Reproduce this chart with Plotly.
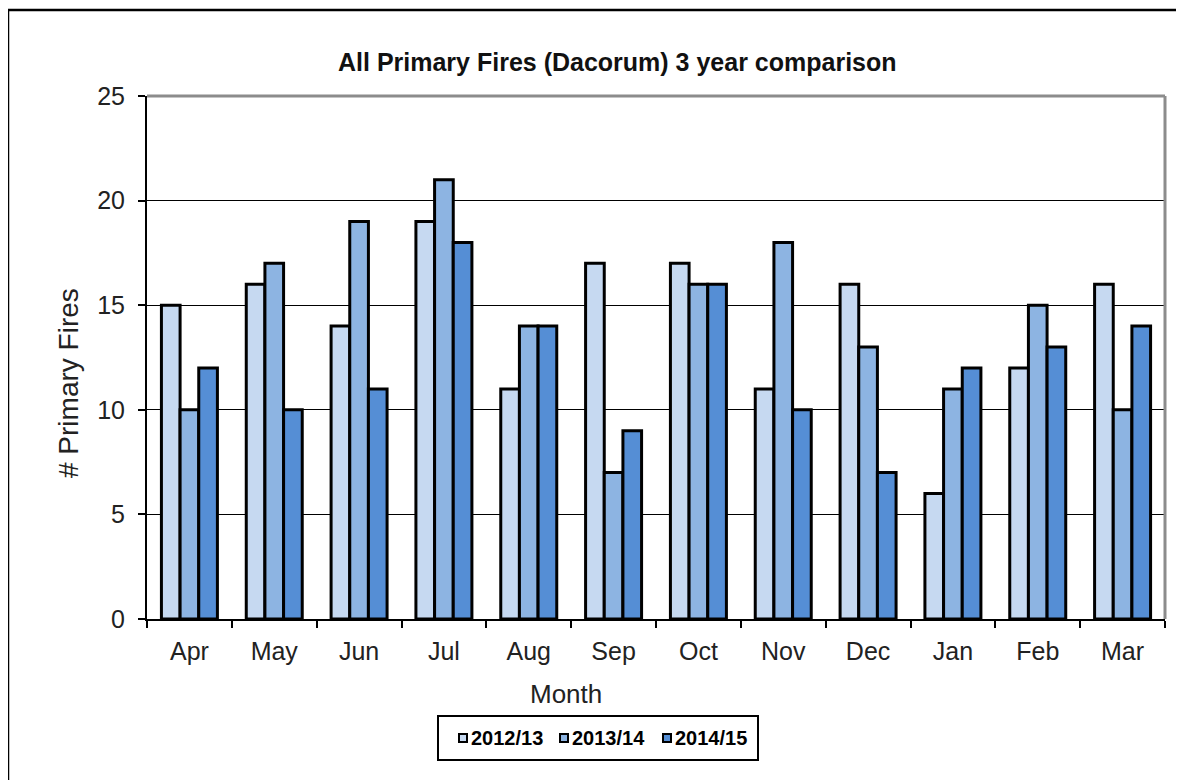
import plotly.graph_objects as go

months = ["Apr", "May", "Jun", "Jul", "Aug", "Sep", "Oct", "Nov", "Dec", "Jan", "Feb", "Mar"]
fy_2012_13 = [15, 16, 14, 19, 11, 17, 17, 11, 16, 6, 12, 16]
fy_2013_14 = [10, 17, 19, 21, 14, 7, 16, 18, 13, 11, 15, 10]
fy_2014_15 = [12, 10, 11, 18, 14, 9, 16, 10, 7, 12, 13, 14]
series_names = ["2012/13", "2013/14", "2014/15"]
series_colors = ["#C6D9F1", "#8DB4E2", "#558ED5"]
y_ticks = [0, 5, 10, 15, 20, 25]

OFF = 8  # page body margin
W, H = 1184 - OFF, 780 - OFF
L = 147 - OFF
T = 96 - OFF
R = W - (1165 - OFF)
B = H - (619 - OFF)
pw, ph = W - L - R, H - T - B


def px_x(x):  # reference-screen x -> paper
    return (x - OFF - L) / pw


def px_y(y):  # reference-screen y -> paper
    return (H - B - (y - OFF)) / ph


FONT = "Liberation Sans, Arial, sans-serif"

fig = go.Figure()
for name, vals, col in zip(series_names, [fy_2012_13, fy_2013_14, fy_2014_15], series_colors):
    fig.add_trace(go.Bar(
        x=months, y=vals, name=name,
        marker=dict(color=col, line=dict(color="black", width=3)),
    ))

fig.update_layout(
    width=W, height=H,
    margin=dict(l=L, r=R, t=T, b=B),
    paper_bgcolor="white", plot_bgcolor="white",
    barmode="group", bargap=0.34, bargroupgap=0,
    font=dict(family=FONT, size=25, color="#222222"),
    showlegend=False,
    xaxis=dict(
        type="category", tickson="boundaries", ticks="outside", ticklen=7,
        tickcolor="black", tickwidth=1.5, showline=True, linecolor="black", linewidth=2,
        showgrid=False, tickfont=dict(size=25, color="#222222"), range=[-0.5, 11.5],
        ticklabelstandoff=9,
    ),
    yaxis=dict(
        range=[0, 25], tickvals=y_ticks, ticks="outside", ticklen=7, tickcolor="black",
        tickwidth=1.5, showline=True, linecolor="black", linewidth=2,
        showgrid=True, gridcolor="black", gridwidth=1.3, zeroline=False,
        tickfont=dict(size=25, color="#222222"), ticklabelstandoff=8,
    ),
)

shapes = [
    # grey plot-area border top and right
    dict(type="line", xref="paper", yref="paper", x0=0, x1=1, y0=1, y1=1,
         line=dict(color="#8C8C8C", width=3)),
    dict(type="line", xref="paper", yref="paper", x0=1, x1=1, y0=0, y1=1,
         line=dict(color="#8C8C8C", width=3)),
    # outer chart frame (left and top)
    dict(type="line", xref="paper", yref="paper", x0=px_x(8), x1=px_x(8), y0=px_y(800), y1=px_y(10),
         line=dict(color="black", width=2.5)),
    dict(type="line", xref="paper", yref="paper", x0=px_x(8), x1=px_x(1200), y0=px_y(10), y1=px_y(10),
         line=dict(color="black", width=2.5)),
    # legend box
    dict(type="rect", xref="paper", yref="paper", x0=px_x(438), x1=px_x(758), y0=px_y(760), y1=px_y(716),
         line=dict(color="black", width=2), fillcolor="white"),
]

# custom legend entries
legend_marker_x = [459, 560, 663]
legend_y = 738
for name, col, mx in zip(series_names, series_colors, legend_marker_x):
    shapes.append(dict(type="rect", xref="paper", yref="paper",
                       x0=px_x(mx), x1=px_x(mx + 8), y0=px_y(legend_y + 4), y1=px_y(legend_y - 4),
                       line=dict(color="black", width=2), fillcolor=col))
    fig.add_annotation(text="<b>" + name + "</b>", xref="paper", yref="paper",
                       x=px_x(mx + 10), y=px_y(legend_y), xanchor="left", yanchor="middle",
                       showarrow=False, font=dict(size=20, color="black"))

fig.update_layout(shapes=shapes)

fig.add_annotation(text="<b>All Primary Fires (Dacorum) 3 year comparison</b>", xref="paper", yref="paper",
                   x=px_x(617), y=px_y(62), xanchor="center", yanchor="middle",
                   showarrow=False, font=dict(size=25, color="#111111"))
fig.add_annotation(text="Month", xref="paper", yref="paper", x=px_x(566), y=px_y(694),
                   xanchor="center", yanchor="middle",
                   showarrow=False, font=dict(size=26, color="#222222"))
fig.add_annotation(text="# Primary Fires", xref="paper", yref="paper", x=px_x(68), y=px_y(383),
                   xanchor="center", yanchor="middle",
                   showarrow=False, textangle=-90, font=dict(size=28, color="#222222"))

fig.write_html("out.html")
